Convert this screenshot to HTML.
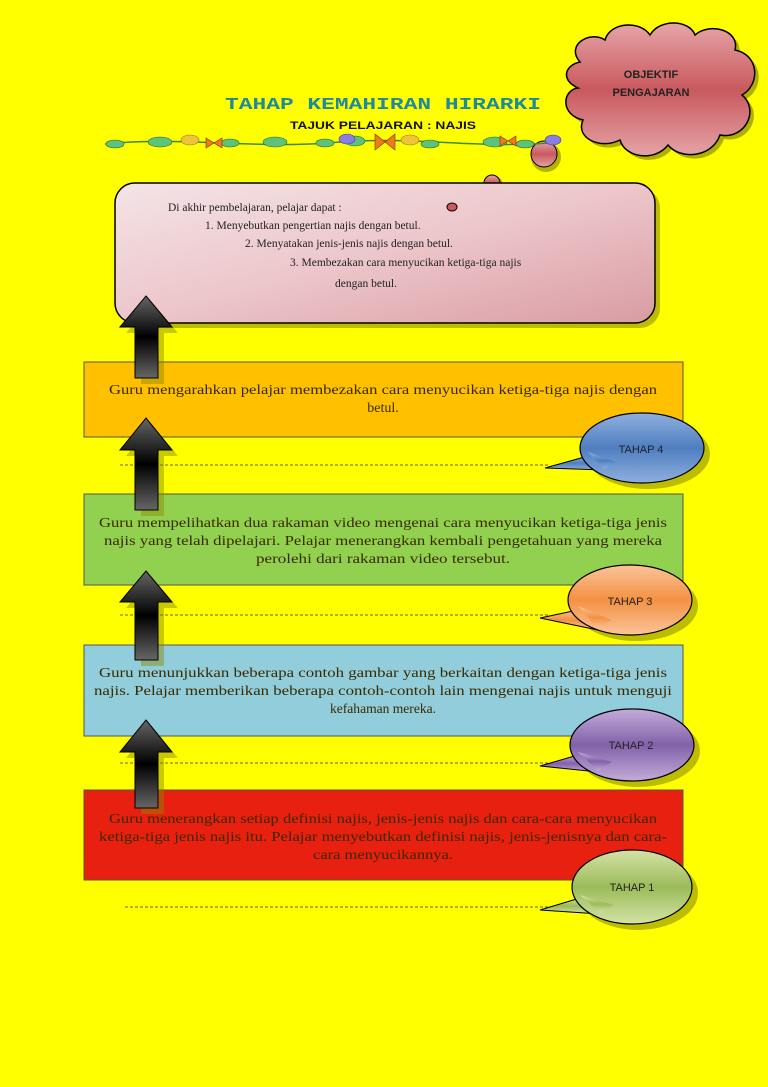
<!DOCTYPE html>
<html><head><meta charset="utf-8"><style>
html,body{margin:0;padding:0;background:#ffff00;}
svg{display:block}
.t{font-family:"Liberation Serif",serif;font-size:14px;fill:#3a2a00}
.s{font-family:"Liberation Sans",sans-serif;font-size:11px;fill:#222}
.b{font-family:"Liberation Serif",serif;font-size:11.5px;fill:#222}
</style></head><body>
<svg width="768" height="1087" viewBox="0 0 768 1087" xmlns="http://www.w3.org/2000/svg">
<defs>
<linearGradient id="pink" x1="0" y1="0" x2="1" y2="1"><stop offset="0" stop-color="#f4e4e6"/><stop offset="0.5" stop-color="#ecc6ca"/><stop offset="1" stop-color="#d99ca3"/></linearGradient>
<linearGradient id="cloud" x1="0" y1="0" x2="0" y2="1"><stop offset="0" stop-color="#e6a5a8"/><stop offset="0.5" stop-color="#c9595e"/><stop offset="1" stop-color="#e4a3a6"/></linearGradient>
<linearGradient id="arv" x1="0" y1="0" x2="0" y2="1"><stop offset="0" stop-color="#666"/><stop offset="0.5" stop-color="#000"/><stop offset="1" stop-color="#666"/></linearGradient>
<linearGradient id="gb" x1="0" y1="0" x2="0" y2="1"><stop offset="0" stop-color="#8fb0de"/><stop offset="0.5" stop-color="#4f7ec0"/><stop offset="1" stop-color="#8fb0de"/></linearGradient>
<linearGradient id="go" x1="0" y1="0" x2="0" y2="1"><stop offset="0" stop-color="#fbc49a"/><stop offset="0.5" stop-color="#f39143"/><stop offset="1" stop-color="#fbc49a"/></linearGradient>
<linearGradient id="gp" x1="0" y1="0" x2="0" y2="1"><stop offset="0" stop-color="#c3acd8"/><stop offset="0.5" stop-color="#8261aa"/><stop offset="1" stop-color="#c3acd8"/></linearGradient>
<linearGradient id="gg" x1="0" y1="0" x2="0" y2="1"><stop offset="0" stop-color="#d4e3a6"/><stop offset="0.5" stop-color="#9bbb59"/><stop offset="1" stop-color="#d4e3a6"/></linearGradient>
</defs>

<!-- cloud -->
<g transform="translate(4,4)" fill="#7a7a00" opacity="0.6">
<path d="M580,62 C565,45 590,30 605,40 C610,22 640,20 650,35 C660,18 690,20 695,35 C710,22 740,30 735,50 C760,55 760,85 742,95 C760,110 745,140 720,135 C712,158 680,160 668,145 C655,162 625,158 620,140 C600,150 575,138 583,120 C560,115 562,90 578,88 C560,80 565,65 580,62Z"/>
</g>
<path d="M580,62 C565,45 590,30 605,40 C610,22 640,20 650,35 C660,18 690,20 695,35 C710,22 740,30 735,50 C760,55 760,85 742,95 C760,110 745,140 720,135 C712,158 680,160 668,145 C655,162 625,158 620,140 C600,150 575,138 583,120 C560,115 562,90 578,88 C560,80 565,65 580,62Z" fill="url(#cloud)" stroke="#000" stroke-width="1.5"/>
<text x="651" y="78" text-anchor="middle" font-family="Liberation Sans,sans-serif" font-weight="bold" font-size="11" fill="#222">OBJEKTIF</text>
<text x="651" y="96" text-anchor="middle" font-family="Liberation Sans,sans-serif" font-weight="bold" font-size="11" fill="#222">PENGAJARAN</text>
<circle cx="546" cy="157" r="15" fill="#6a6a00" opacity="0.5"/>
<circle cx="544" cy="154" r="13" fill="url(#cloud)" stroke="#000"/>
<circle cx="494" cy="185" r="9" fill="#6a6a00" opacity="0.5"/>
<circle cx="492" cy="183" r="8" fill="url(#cloud)" stroke="#000"/>

<!-- title -->
<text x="383" y="109" text-anchor="middle" font-family="Liberation Mono,monospace" font-weight="bold" font-size="17" fill="#1f8a9e" textLength="316" lengthAdjust="spacingAndGlyphs">TAHAP KEMAHIRAN HIRARKI</text>
<text x="383" y="129" text-anchor="middle" font-family="Liberation Sans,sans-serif" font-weight="bold" font-size="11" fill="#111" textLength="186" lengthAdjust="spacingAndGlyphs">TAJUK PELAJARAN :  NAJIS</text>
<!-- floral border -->
<g>
<path d="M105,144 C180,136 260,150 340,142 C420,136 480,150 560,142" stroke="#3b8a3b" stroke-width="1.5" fill="none"/>
<g fill="#5ec27a" stroke="#2b6b3a" stroke-width="0.6">
<ellipse cx="115" cy="144" rx="9" ry="4"/><ellipse cx="160" cy="142" rx="12" ry="5"/><ellipse cx="230" cy="143" rx="9" ry="4"/>
<ellipse cx="275" cy="142" rx="12" ry="5"/><ellipse cx="325" cy="143" rx="9" ry="4"/><ellipse cx="355" cy="141" rx="10" ry="5"/>
<ellipse cx="430" cy="144" rx="9" ry="4"/><ellipse cx="495" cy="142" rx="12" ry="5"/><ellipse cx="525" cy="144" rx="9" ry="4"/>
</g>
<g fill="#f0c43a" stroke="#9a7a10" stroke-width="0.6"><ellipse cx="190" cy="140" rx="9" ry="5"/><ellipse cx="410" cy="140" rx="9" ry="5"/></g>
<g fill="#8a7ee0" stroke="#443a9a" stroke-width="0.6"><ellipse cx="347" cy="139" rx="8" ry="5"/><ellipse cx="553" cy="140" rx="8" ry="5"/></g>
<g fill="#f07a20" stroke="#803000" stroke-width="0.6"><path d="M206,138 l8,5 l-8,5z M222,138 l-8,5 l8,5z"/><path d="M375,134 l10,8 l-10,8z M395,134 l-10,8 l10,8z"/><path d="M500,136 l8,5 l-8,5z M516,136 l-8,5 l8,5z"/></g>
</g>

<!-- pink box -->
<rect x="120" y="188" width="540" height="140" rx="20" fill="#7a7a00" opacity="0.5"/>
<rect x="115" y="183" width="540" height="140" rx="20" fill="url(#pink)" stroke="#000" stroke-width="1.5"/>
<ellipse cx="452" cy="207" rx="5" ry="4" fill="#c9595e" stroke="#000"/>
<text class="b" x="168" y="211">Di akhir pembelajaran, pelajar dapat :</text>
<text class="b" x="205" y="229">1. Menyebutkan pengertian najis dengan betul.</text>
<text class="b" x="245" y="247">2. Menyatakan jenis-jenis najis dengan betul.</text>
<text class="b" x="290" y="266">3. Membezakan cara menyucikan ketiga-tiga najis</text>
<text class="b" x="335" y="287">dengan  betul.</text>

<!-- bands -->
<rect x="84" y="362" width="599" height="75" fill="#ffc000" stroke="#555" stroke-width="1"/>
<text class="t" x="383" y="394" text-anchor="middle" textLength="548" lengthAdjust="spacingAndGlyphs">Guru mengarahkan pelajar membezakan cara menyucikan ketiga-tiga najis dengan</text>
<text class="t" x="383" y="412" text-anchor="middle">betul.</text>

<rect x="84" y="494" width="599" height="91" fill="#92d050" stroke="#555" stroke-width="1"/>
<text class="t" x="383" y="527" text-anchor="middle" textLength="568" lengthAdjust="spacingAndGlyphs">Guru mempelihatkan dua rakaman video mengenai cara menyucikan ketiga-tiga jenis</text>
<text class="t" x="383" y="545" text-anchor="middle" textLength="558" lengthAdjust="spacingAndGlyphs">najis yang telah dipelajari.  Pelajar menerangkan kembali pengetahuan yang mereka</text>
<text class="t" x="383" y="563" text-anchor="middle" textLength="254" lengthAdjust="spacingAndGlyphs">perolehi dari rakaman video tersebut.</text>

<rect x="84" y="645" width="599" height="91" fill="#92cddc" stroke="#555" stroke-width="1"/>
<text class="t" x="383" y="677" text-anchor="middle" textLength="568" lengthAdjust="spacingAndGlyphs">Guru menunjukkan beberapa contoh gambar yang berkaitan dengan ketiga-tiga jenis</text>
<text class="t" x="383" y="695" text-anchor="middle" textLength="578" lengthAdjust="spacingAndGlyphs">najis.  Pelajar memberikan beberapa contoh-contoh lain mengenai najis untuk menguji</text>
<text class="t" x="383" y="713" text-anchor="middle" textLength="106" lengthAdjust="spacingAndGlyphs">kefahaman mereka.</text>

<rect x="84" y="790" width="599" height="90" fill="#e8200f" stroke="#555" stroke-width="1"/>
<text class="t" x="383" y="823" text-anchor="middle" textLength="548" lengthAdjust="spacingAndGlyphs">Guru menerangkan setiap definisi najis, jenis-jenis najis dan cara-cara menyucikan</text>
<text class="t" x="383" y="841" text-anchor="middle" textLength="568" lengthAdjust="spacingAndGlyphs">ketiga-tiga jenis najis itu.  Pelajar menyebutkan definisi najis, jenis-jenisnya dan cara-</text>
<text class="t" x="383" y="859" text-anchor="middle" textLength="140" lengthAdjust="spacingAndGlyphs">cara menyucikannya.</text>

<!-- dashed lines -->
<g stroke="#333" stroke-width="0.8" stroke-dasharray="3,2">
<line x1="120" y1="465" x2="550" y2="465"/>
<line x1="120" y1="615" x2="550" y2="615"/>
<line x1="120" y1="763" x2="550" y2="763"/>
<line x1="125" y1="907" x2="550" y2="907"/>
</g>

<!-- speech bubbles -->
<ellipse cx="648" cy="454" rx="62" ry="35" fill="#7a7a00" opacity="0.5"/>
<path d="M588,456 L545,468 L604,470 Z" fill="url(#gb)" stroke="#000"/>
<ellipse cx="642" cy="448" rx="62" ry="35" fill="url(#gb)" stroke="#000" stroke-width="1.2"/>
<path d="M588,452 L604,469 L616,462 Z" fill="url(#gb)"/>
<text class="s" x="641" y="453" text-anchor="middle">TAHAP 4</text>

<ellipse cx="636" cy="606" rx="62" ry="35" fill="#7a7a00" opacity="0.5"/>
<path d="M578,610 L540,618 L598,630 Z" fill="url(#go)" stroke="#000"/>
<ellipse cx="630" cy="600" rx="62" ry="35" fill="url(#go)" stroke="#000" stroke-width="1.2"/>
<path d="M578,606 L598,629 L612,620 Z" fill="url(#go)"/>
<text class="s" x="630" y="605" text-anchor="middle">TAHAP 3</text>

<ellipse cx="638" cy="751" rx="62" ry="36" fill="#7a7a00" opacity="0.5"/>
<path d="M578,755 L540,766 L598,772 Z" fill="url(#gp)" stroke="#000"/>
<ellipse cx="632" cy="745" rx="62" ry="36" fill="url(#gp)" stroke="#000" stroke-width="1.2"/>
<path d="M578,752 L598,771 L612,762 Z" fill="url(#gp)"/>
<text class="s" x="631" y="749" text-anchor="middle">TAHAP 2</text>

<ellipse cx="638" cy="893" rx="60" ry="37" fill="#7a7a00" opacity="0.5"/>
<path d="M580,898 L540,910 L600,914 Z" fill="url(#gg)" stroke="#000"/>
<ellipse cx="632" cy="887" rx="60" ry="37" fill="url(#gg)" stroke="#000" stroke-width="1.2"/>
<path d="M580,895 L600,913 L614,905 Z" fill="url(#gg)"/>
<text class="s" x="632" y="891" text-anchor="middle">TAHAP 1</text>

<!-- arrows shadows -->
<g fill="#8a8a00" opacity="0.45" transform="translate(6,6)">
<path d="M146,296 L172,327 L158,327 L158,378 L135,378 L135,327 L120,327 Z"/>
<path d="M146,418 L172,450 L158,450 L158,510 L135,510 L135,450 L120,450 Z"/>
<path d="M146,571 L172,602 L158,602 L158,660 L135,660 L135,602 L120,602 Z"/>
<path d="M146,720 L172,752 L158,752 L158,808 L135,808 L135,752 L120,752 Z"/>
</g>
<g stroke="#000" stroke-width="1">
<path d="M146,296 L172,327 L158,327 L158,378 L135,378 L135,327 L120,327 Z" fill="url(#arv)"/>
<path d="M146,418 L172,450 L158,450 L158,510 L135,510 L135,450 L120,450 Z" fill="url(#arv)"/>
<path d="M146,571 L172,602 L158,602 L158,660 L135,660 L135,602 L120,602 Z" fill="url(#arv)"/>
<path d="M146,720 L172,752 L158,752 L158,808 L135,808 L135,752 L120,752 Z" fill="url(#arv)"/>
</g>
</svg>
</body></html>
